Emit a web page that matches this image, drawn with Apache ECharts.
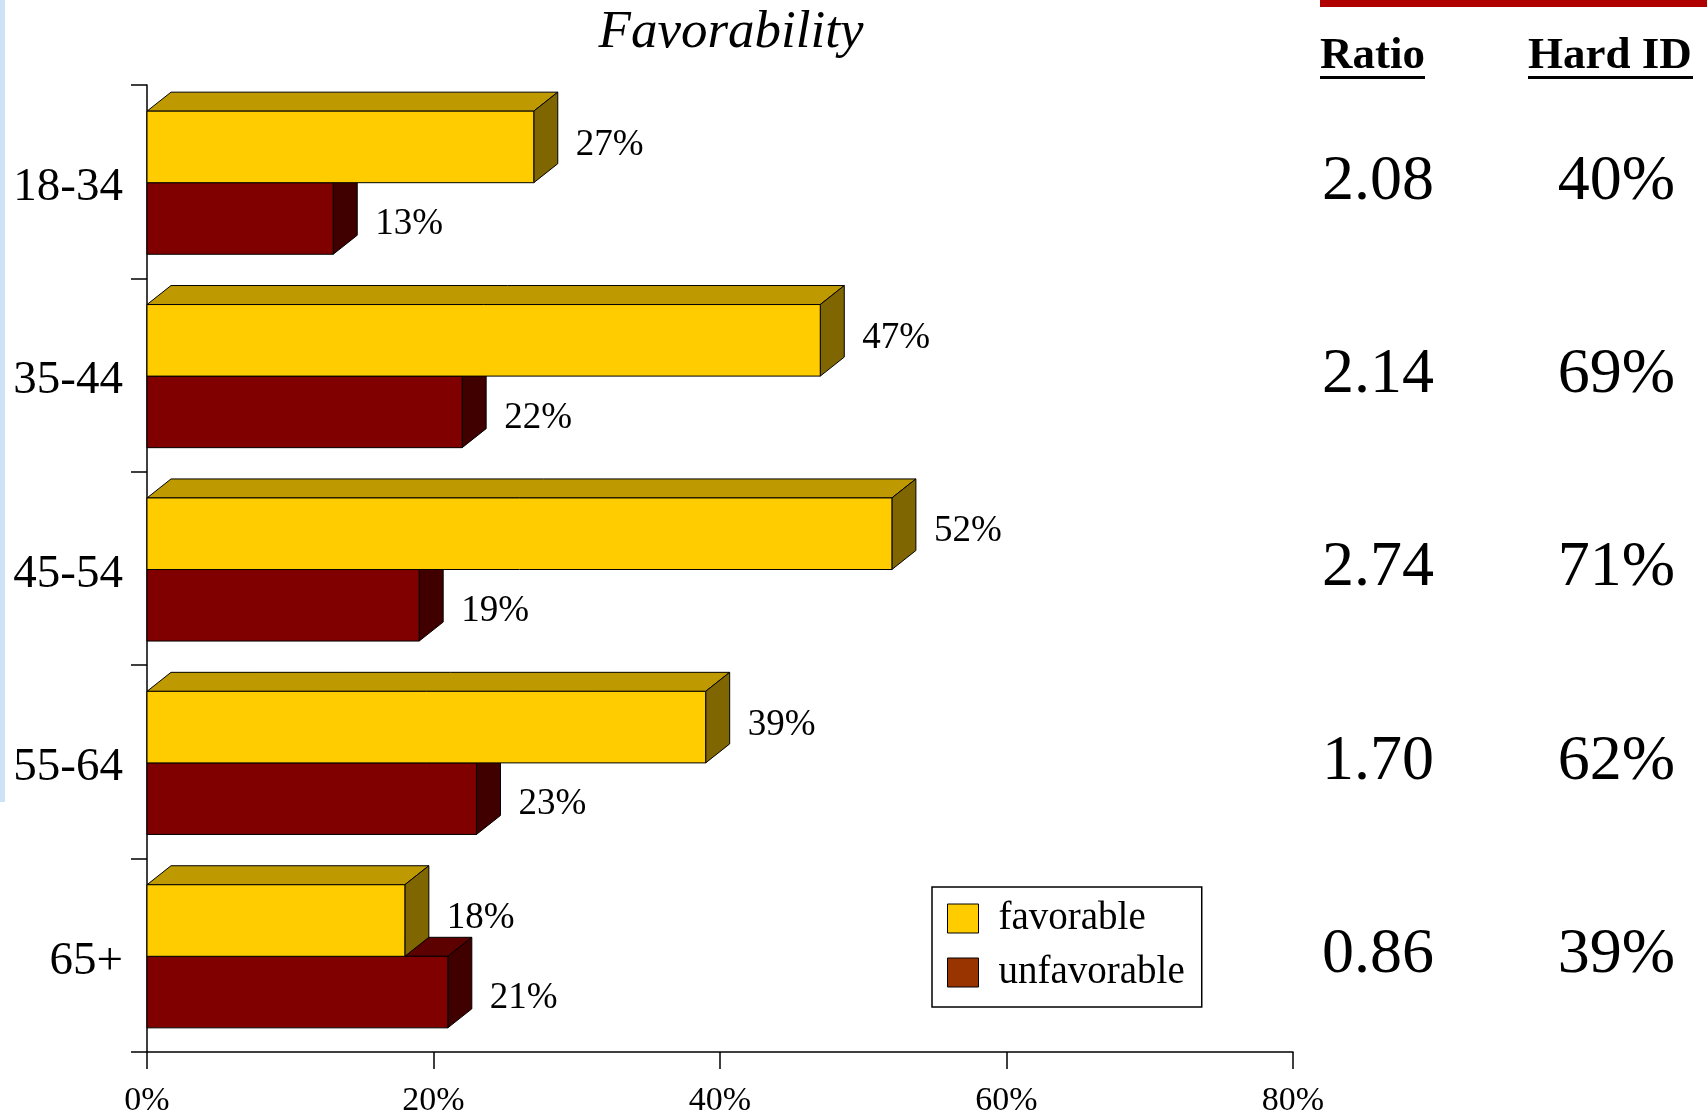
<!DOCTYPE html>
<html>
<head>
<meta charset="utf-8">
<title>Favorability by age</title>
<script src="https://cdn.jsdelivr.net/npm/echarts@6/dist/echarts.min.js"></script>
<style>
  html, body { margin: 0; padding: 0; background: #fff; }
  #chart { width: 1707px; height: 1118px; }
</style>
</head>
<body>
<div id="chart"></div>
<script>
const ageGroups = ['18-34', '35-44', '45-54', '55-64', '65+']
const favorable = [27, 47, 52, 39, 18]
const unfavorable = [13, 22, 19, 23, 21]
const ratio = ['2.08', '2.14', '2.74', '1.70', '0.86']
const hardId = ['40%', '69%', '71%', '62%', '39%']
const columnHeads = ['Ratio', 'Hard ID']

const FONT = 'Liberation Serif'
const DEPTH_X = 24
const DEPTH_Y = 19

const yellow = { front: '#ffcc00', top: '#bf9900', side: '#7f6600' }
const maroon = { front: '#800000', top: '#5c0000', side: '#400000' }

// slot 0 sits above the band centre, slot 1 below it
function box3d(colors, slot) {
  return (params, api) => {
    const cat = api.value(1)
    const val = api.value(0)
    const start = api.coord([0, cat])
    const end = api.coord([val, cat])
    const h = api.size([0, 1])[1] * 0.37
    const top = start[1] + 1 - (slot === 0 ? h : 0)
    const x0 = start[0]
    const x1 = end[0]
    const edge = { stroke: '#000', lineWidth: 1, lineJoin: 'round' }
    return {
      type: 'group',
      children: [
        {
          type: 'polygon',
          shape: { points: [[x0, top], [x0 + DEPTH_X, top - DEPTH_Y], [x1 + DEPTH_X, top - DEPTH_Y], [x1, top]] },
          style: { fill: colors.top, ...edge },
        },
        {
          type: 'polygon',
          shape: { points: [[x1, top], [x1 + DEPTH_X, top - DEPTH_Y], [x1 + DEPTH_X, top + h - DEPTH_Y], [x1, top + h]] },
          style: { fill: colors.side, ...edge },
        },
        { type: 'rect', shape: { x: x0, y: top, width: x1 - x0, height: h }, style: { fill: colors.front, ...edge } },
        {
          type: 'text',
          x: x1 + 42,
          y: top + h / 2 + (slot === 0 ? -2 : 6),
          style: { text: val + '%', fontFamily: FONT, fontSize: 37, fill: '#000', align: 'left', verticalAlign: 'middle' },
        },
      ],
    }
  }
}

const axisLine = { show: true, lineStyle: { color: '#000', width: 1.5 } }
const tickStyle = { color: '#000', width: 1.5 }

const option = {
  backgroundColor: '#fff',
  animation: false,
  title: {
    text: 'Favorability',
    left: 731,
    top: 7,
    padding: 0,
    textAlign: 'center',
    textStyle: { fontFamily: FONT, fontStyle: 'italic', fontWeight: 'normal', fontSize: 53, lineHeight: 53, color: '#000' },
  },
  grid: { left: 147, right: 414, top: 85, bottom: 64, containLabel: false },
  legend: {
    orient: 'vertical',
    left: 932,
    top: 887,
    icon: 'rect',
    itemWidth: 31,
    itemHeight: 29,
    itemGap: 15,
    padding: [12, 17, 15, 15],
    borderColor: '#000',
    borderWidth: 1.5,
    itemStyle: { borderColor: '#000', borderWidth: 1 },
    textStyle: { fontFamily: FONT, fontSize: 39, color: '#000', lineHeight: 29, padding: [0, 0, 0, 15] },
    data: [
      { name: 'favorable', itemStyle: { color: '#ffcc00' } },
      { name: 'unfavorable', itemStyle: { color: '#993300' } },
    ],
  },
  xAxis: {
    type: 'value',
    min: 0,
    max: 80,
    interval: 20,
    axisLine,
    axisTick: { show: true, length: 17, lineStyle: tickStyle },
    axisLabel: { formatter: '{value}%', fontFamily: FONT, fontSize: 34, color: '#000', margin: 32 },
    splitLine: { show: false },
  },
  yAxis: [
    {
      type: 'category',
      data: ageGroups,
      inverse: true,
      axisLine,
      axisTick: { show: true, length: 16, lineStyle: tickStyle },
      // short line box hung from the band centre nudges the text a little lower
      axisLabel: { fontFamily: FONT, fontSize: 47, color: '#000', margin: 24, verticalAlign: 'top', lineHeight: 12 },
    },
    {
      type: 'category',
      data: ageGroups,
      inverse: true,
      position: 'right',
      offset: 0,
      axisLine: { show: false },
      axisTick: { show: false },
      axisLabel: {
        formatter: (v, i) => ratio[i],
        align: 'left',
        margin: 29,
        fontFamily: FONT,
        fontSize: 64,
        color: '#000',
      },
    },
    {
      type: 'category',
      data: ageGroups,
      inverse: true,
      position: 'right',
      offset: 0,
      axisLine: { show: false },
      axisTick: { show: false },
      axisLabel: {
        formatter: (v, i) => hardId[i],
        align: 'right',
        margin: 382,
        fontFamily: FONT,
        fontSize: 64,
        color: '#000',
      },
    },
  ],
  series: [
    {
      type: 'custom',
      name: 'favorable',
      z: 3,
      itemStyle: { color: yellow.front },
      encode: { x: 0, y: 1 },
      renderItem: box3d(yellow, 0),
      data: favorable.map((v, i) => [v, i]),
    },
    {
      type: 'custom',
      name: 'unfavorable',
      z: 2,
      itemStyle: { color: maroon.front },
      encode: { x: 0, y: 1 },
      renderItem: box3d(maroon, 1),
      data: unfavorable.map((v, i) => [v, i]),
    },
  ],
  graphic: [
    // slide decorations
    { type: 'rect', left: 0, top: 0, shape: { width: 5, height: 802 }, style: { fill: '#cde1f7' }, silent: true },
    { type: 'rect', left: 1320, top: 0, shape: { width: 387, height: 7 }, style: { fill: '#b00000' }, silent: true },
    // column headings
    { type: 'text', x: 1320, y: 56.5, style: { text: columnHeads[0], fontFamily: FONT, fontWeight: 'bold', fontSize: 45, fill: '#000', align: 'left', verticalAlign: 'middle' } },
    { type: 'text', x: 1528, y: 56.5, style: { text: columnHeads[1], fontFamily: FONT, fontWeight: 'bold', fontSize: 45, fill: '#000', align: 'left', verticalAlign: 'middle' } },
    { type: 'line', shape: { x1: 1320, y1: 77.5, x2: 1425, y2: 77.5 }, style: { stroke: '#000', lineWidth: 3 } },
    { type: 'line', shape: { x1: 1528, y1: 77.5, x2: 1693, y2: 77.5 }, style: { stroke: '#000', lineWidth: 3 } },
  ],
}

const chart = echarts.init(document.getElementById('chart'))
chart.setOption(option)
window.addEventListener('resize', () => chart.resize())
</script>
</body>
</html>
